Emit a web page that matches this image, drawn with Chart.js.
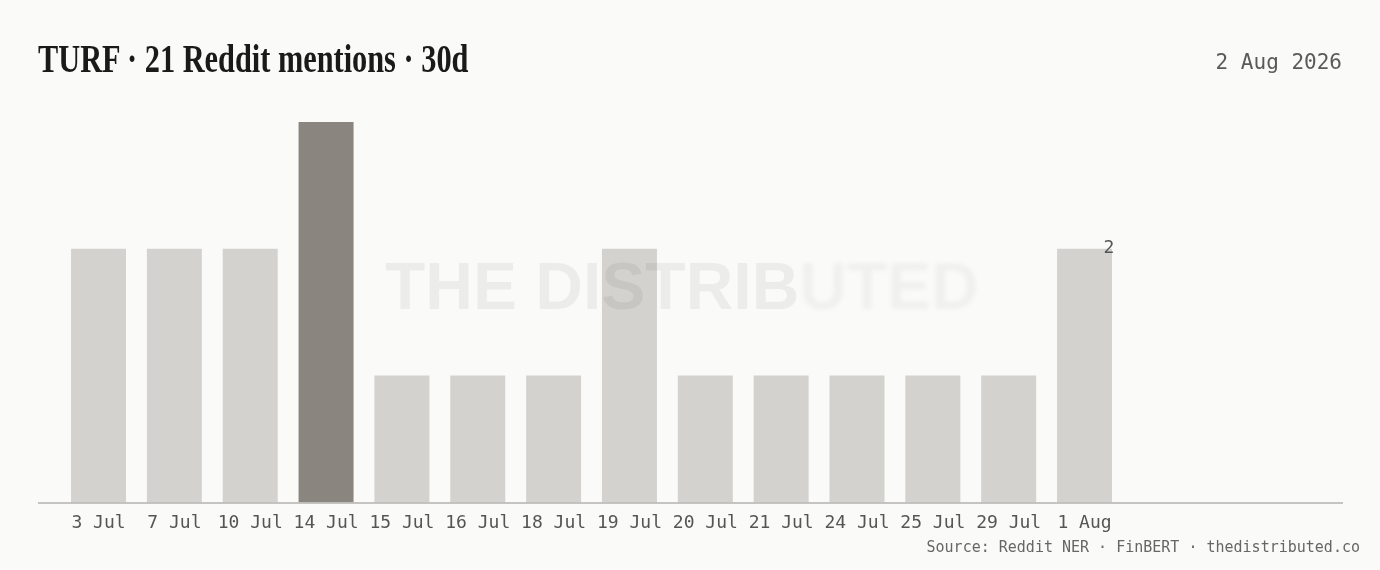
<!DOCTYPE html>
<html>
<head>
<meta charset="utf-8">
<script src="https://cdn.jsdelivr.net/npm/chart.js@4.4.1/dist/chart.umd.min.js"></script>
<style>
  html, body { margin: 0; padding: 0; background: #fafaf8; }
  #wrap { position: relative; width: 1380px; height: 570px; overflow: hidden; }
  #title {
    position: absolute; left: 38px; top: 34px;
    font-family: "Liberation Serif", "DejaVu Serif", serif; font-weight: bold;
    font-size: 41px; color: #1a1a1a; white-space: nowrap;
    transform: scaleX(0.74); transform-origin: left top; line-height: 48px;
  }
  #date {
    position: absolute; right: 38px; top: 50px;
    font-family: "DejaVu Sans Mono", monospace; font-size: 21px; color: #5a5a5a;
  }
  #source {
    position: absolute; right: 20px; top: 538px;
    font-family: "DejaVu Sans Mono", monospace; font-size: 15px; color: #666;
  }
  #chartBox { position: absolute; left: 0; top: 0; width: 1380px; height: 570px; }
</style>
</head>
<body>
<div id="wrap">
  <div id="chartBox"><canvas id="c"></canvas></div>
  <div id="title">TURF · 21 Reddit mentions · 30d</div>
  <div id="date">2 Aug 2026</div>
  <div id="source">Source: Reddit NER · FinBERT · thedistributed.co</div>
</div>
<script>
// mentions per day
const days = ['3 Jul', '7 Jul', '10 Jul', '14 Jul', '15 Jul', '16 Jul', '18 Jul', '19 Jul', '20 Jul', '21 Jul', '24 Jul', '25 Jul', '29 Jul', '1 Aug'];
const mentions = [2, 2, 2, 3, 1, 1, 1, 2, 1, 1, 1, 1, 1, 2];
const emptySlots = 3;  // blank room at the right of the axis

const labels = days.concat(Array(emptySlots).fill(''));
const values = mentions.concat(Array(emptySlots).fill(null));
const peak = Math.max(...mentions);
const colors = values.map(v => v === peak ? '#8a857e' : '#d3d2ce');

// baseline, watermark and last value label
const extras = {
  id: 'extras',
  afterDatasetsDraw(chart) {
    const ctx = chart.ctx;
    const y0 = chart.scales.y.getPixelForValue(0);
    ctx.save();
    ctx.strokeStyle = '#b4b2ae';
    ctx.lineWidth = 1.5;
    ctx.beginPath();
    ctx.moveTo(38, y0 + 0.5);
    ctx.lineTo(1343, y0 + 0.5);
    ctx.stroke();

    ctx.font = 'bold 66px "Liberation Sans", Arial, sans-serif';
    ctx.fillStyle = 'rgba(0,0,0,0.055)';
    ctx.textBaseline = 'alphabetic';
    const a = 'THE DISTRIB', b = 'UTED';
    ctx.fillText(a, 385, 309);
    const w = ctx.measureText(a).width;
    ctx.filter = 'blur(2px)';
    ctx.fillStyle = 'rgba(0,0,0,0.04)';
    ctx.fillText(b, 385 + w, 309);
    ctx.filter = 'none';

    const i = mentions.length - 1;
    const bar = chart.getDatasetMeta(0).data[i];
    ctx.font = '18px "DejaVu Sans Mono", monospace';
    ctx.fillStyle = '#555';
    ctx.textAlign = 'center';
    ctx.textBaseline = 'middle';
    ctx.fillText(String(mentions[i]), bar.x + 24.5, bar.y);
    ctx.restore();
  }
};

new Chart(document.getElementById('c'), {
  type: 'bar',
  data: {
    labels: labels,
    datasets: [{
      data: values,
      backgroundColor: colors,
      borderWidth: 0,
      categoryPercentage: 1,
      barPercentage: 0.725
    }]
  },
  options: {
    responsive: true,
    maintainAspectRatio: false,
    animation: false,
    layout: { padding: { left: 60.6, right: 30, top: 122, bottom: 34 } },
    plugins: { legend: { display: false }, tooltip: { enabled: false } },
    scales: {
      y: { display: false, min: 0, max: 3 },
      x: {
        grid: { display: false },
        border: { display: false },
        ticks: {
          color: '#555',
          font: { family: '"DejaVu Sans Mono", monospace', size: 18 },
          padding: 2,
          maxRotation: 0,
          autoSkip: false
        }
      }
    }
  },
  plugins: [extras]
});
</script>
</body>
</html>
